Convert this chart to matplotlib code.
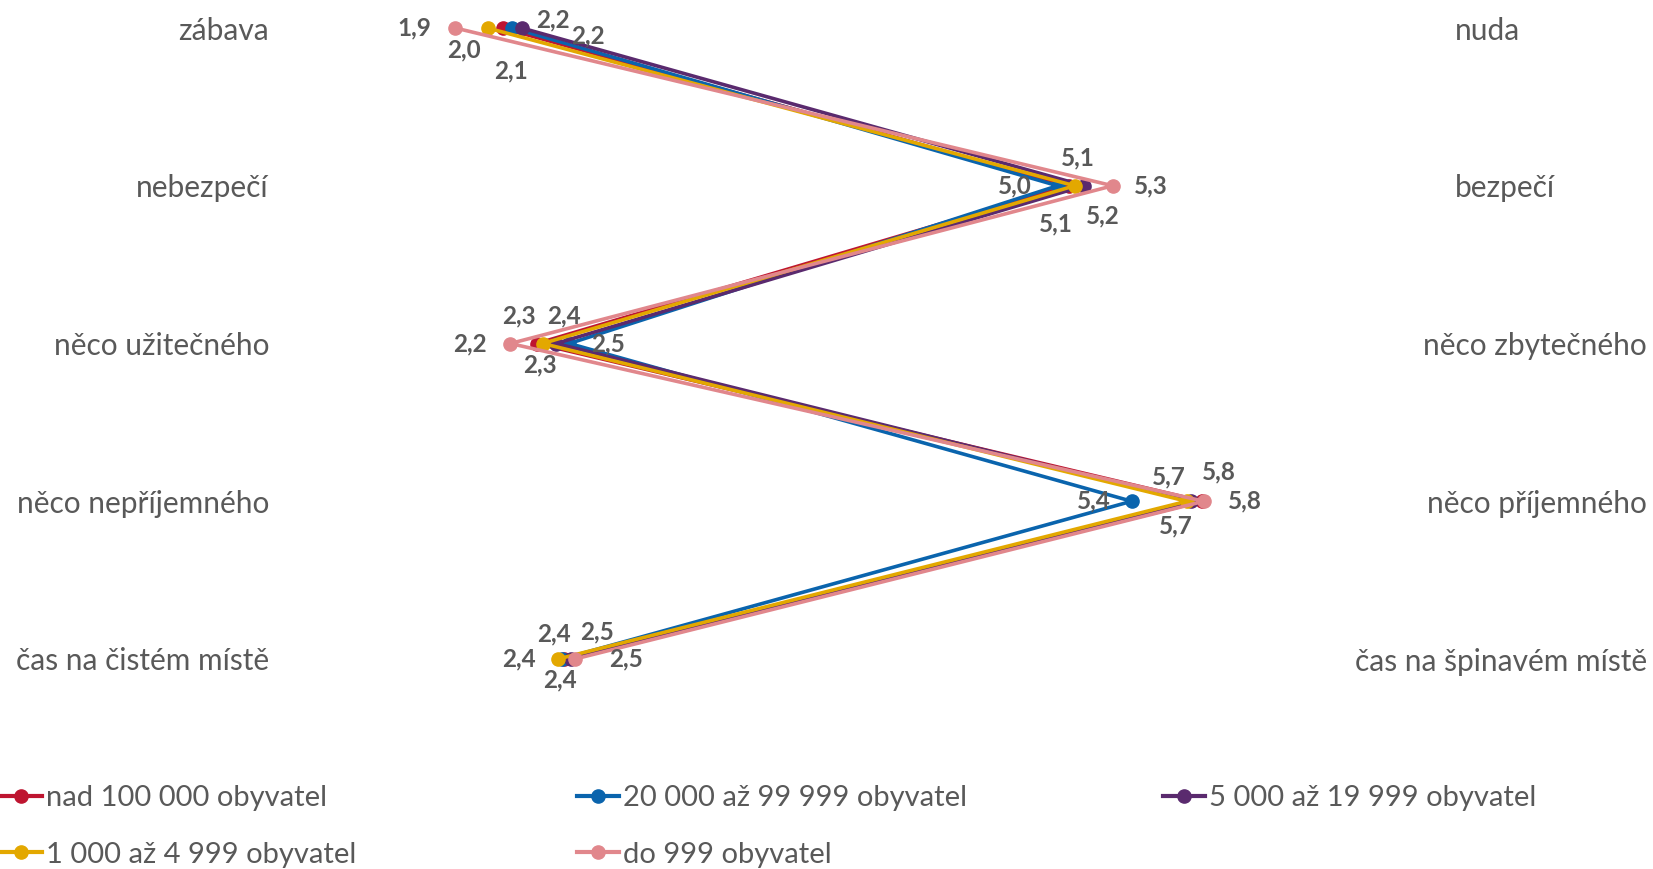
import matplotlib.pyplot as plt
from matplotlib.lines import Line2D
from matplotlib.transforms import blended_transform_factory

plt.rcParams['font.family'] = ['Lato', 'DejaVu Sans']

left_labels = ["zábava", "nebezpečí", "něco užitečného", "něco nepříjemného", "čas na čistém místě"]
right_labels = ["nuda", "bezpečí", "něco zbytečného", "něco příjemného", "čas na špinavém místě"]

series_names = ["nad 100 000 obyvatel", "20 000 až 99 999 obyvatel", "5 000 až 19 999 obyvatel",
                "1 000 až 4 999 obyvatel", "do 999 obyvatel"]
colors = ["#BE1530", "#0A64AD", "#5A2A6E", "#E3A800", "#E1878C"]

nad_100000 = [2.12, 5.10, 2.30, 5.80, 2.44]
od_20000 = [2.17, 5.04, 2.47, 5.43, 2.43]
od_5000 = [2.22, 5.18, 2.40, 5.74, 2.48]
od_1000 = [2.04, 5.13, 2.33, 5.72, 2.41]
do_999 = [1.87, 5.33, 2.16, 5.81, 2.50]
values = [nad_100000, od_20000, od_5000, od_1000, do_999]

# label offsets in pixels (dx, dy down) per series, per row
label_offsets = [
    [(8, 43), (-13, 38), (-18, -28), (17, -29), (-4, 21)],
    [(41, -8), (-43, 0), (39, 0), (-38, 0), (-8, -25)],
    [(66, 8), (19, 30), (8, -28), (-15, 25), (26, -27)],
    [(-24, 22), (3, -28), (-3, 21), (-18, -24), (-39, 0)],
    [(-41, 0), (38, 0), (-40, 0), (41, 0), (51, 0)],
]

grey = "#595959"
fig = plt.figure(figsize=(16.53, 8.69), dpi=100)
ax = fig.add_axes([290 / 1653, 1 - 659 / 869, 1140 / 1653, 631 / 869])
rows = list(range(len(left_labels)))

for name, vals, col, offs in zip(series_names, values, colors, label_offsets):
    ax.plot(vals, rows, color=col, lw=2.6, marker="o", markersize=9.5, clip_on=False, label=name)
    for v, r, (dx, dy) in zip(vals, rows, offs):
        ax.annotate(f"{v:.1f}".replace(".", ","), (v, r), xytext=(dx * 0.72, -dy * 0.72),
                    textcoords="offset points", ha="center", va="center",
                    fontsize=17.5, fontweight="bold", color=grey)

ax.set_xlim(1, 7)
ax.set_ylim(4, 0)
ax.axis("off")

tr = blended_transform_factory(fig.transFigure, ax.transData)
for r, lab in zip(rows, left_labels):
    ax.text(269 / 1653, r, lab, transform=tr, ha="right", va="center_baseline", fontsize=21.5, color=grey)

fig.canvas.draw()
renderer = fig.canvas.get_renderer()
for r, lab in zip(rows, right_labels):
    t = ax.text(1455 / 1653, r, lab, transform=tr, ha="left", va="center_baseline", fontsize=21.5, color=grey)
    bb = t.get_window_extent(renderer)
    if bb.x1 > 1647:
        t.set_x(1647 / 1653)
        t.set_ha("right")

handles = [Line2D([], [], color=c, lw=3, marker="o", markersize=9.5) for c in colors]
columns = [([0, 3], 0), ([1, 4], 577), ([2], 1163)]
for idx, x0 in columns:
    fig.legend([handles[i] for i in idx], [series_names[i] for i in idx],
               loc="upper left", bbox_to_anchor=(x0 / 1653, 1 - 785 / 869),
               frameon=False, fontsize=21, borderpad=0, borderaxespad=0,
               handlelength=1.45, handletextpad=0.12, labelspacing=1.05, labelcolor=grey)

fig.savefig("out.png", dpi=100)
